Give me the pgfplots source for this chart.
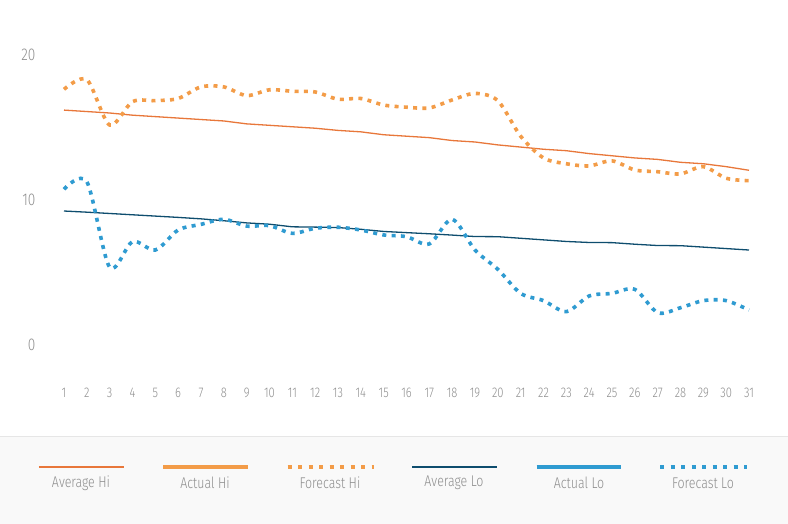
\documentclass[border=0pt]{standalone}
\usepackage{pgfplots}
\pgfplotsset{compat=1.18}
\usepackage{fontspec}
\setmainfont{Fira Sans}[UprightFont=* Light, FakeStretch=0.8]
\definecolor{avghi}{HTML}{E8773A}
\definecolor{fchi}{HTML}{F39C48}
\definecolor{avglo}{HTML}{0E4D6E}
\definecolor{fclo}{HTML}{2F9BD1}
\definecolor{txt}{HTML}{8E8E8E}
\definecolor{legbg}{HTML}{F9F9F9}
\definecolor{legline}{HTML}{E6E6E6}
\begin{document}
\begin{tikzpicture}
\path[use as bounding box] (-64pt,-142.75pt) rectangle (724pt,381.25pt);
\fill[legbg] (-64pt,-142.75pt) rectangle (724pt,-55.75pt);
\draw[legline,line width=1pt] (-64pt,-55.75pt) -- (724pt,-55.75pt);
\begin{axis}[
  at={(0pt,0pt)}, anchor=south west,
  scale only axis, width=685pt, height=348pt,
  xmin=1, xmax=31, ymin=-2.5, ymax=21.5,
  axis line style={draw=none},
  major tick length=0pt,
  xtick={1,...,31}, ytick={0,10,20},
  /pgf/number format/assume math mode=true,
  xticklabel style={font=\fontsize{14}{15}\selectfont, text=txt, yshift=-3pt},
  yticklabel style={font=\fontsize{17}{18}\selectfont, text=txt, xshift=-25pt},
  clip=false,
]
\addplot[avghi, line width=1.3pt] coordinates {
(1,16.2)(2,16.1)(3,16.0)(4,15.85)(5,15.75)(6,15.65)(7,15.55)(8,15.45)(9,15.25)(10,15.15)
(11,15.05)(12,14.95)(13,14.8)(14,14.7)(15,14.5)(16,14.4)(17,14.3)(18,14.1)(19,14.0)(20,13.8)
(21,13.65)(22,13.5)(23,13.4)(24,13.2)(25,13.05)(26,12.9)(27,12.8)(28,12.6)(29,12.5)(30,12.3)(31,12.05)};
\addplot[fchi, line width=3.6pt, dash pattern=on 4pt off 5.3pt, smooth, tension=0.5] coordinates {
(1,17.63)(2,18.3)(3,15.17)(4,16.78)(5,16.85)(6,17.0)(7,17.8)(8,17.8)(9,17.2)(10,17.6)
(11,17.5)(12,17.45)(13,16.95)(14,17.0)(15,16.55)(16,16.4)(17,16.35)(18,16.9)(19,17.35)(20,16.85)
(21,14.4)(22,12.9)(23,12.5)(24,12.35)(25,12.7)(26,12.07)(27,11.95)(28,11.8)(29,12.3)(30,11.5)(31,11.33)};
\addplot[avglo, line width=1.3pt] coordinates {
(1,9.24)(2,9.16)(3,9.07)(4,8.98)(5,8.89)(6,8.80)(7,8.70)(8,8.57)(9,8.42)(10,8.33)
(11,8.15)(12,8.13)(13,8.10)(14,7.98)(15,7.83)(16,7.75)(17,7.67)(18,7.58)(19,7.48)(20,7.47)
(21,7.36)(22,7.25)(23,7.14)(24,7.07)(25,7.06)(26,6.95)(27,6.86)(28,6.85)(29,6.75)(30,6.65)(31,6.55)};
\addplot[fclo, line width=3.6pt, dash pattern=on 4pt off 5.3pt, smooth, tension=0.5] coordinates {
(1,10.74)(2,11.26)(3,5.36)(4,7.13)(5,6.55)(6,7.93)(7,8.32)(8,8.67)(9,8.2)(10,8.23)
(11,7.7)(12,8.05)(13,8.12)(14,7.93)(15,7.59)(16,7.47)(17,6.97)(18,8.67)(19,6.55)(20,5.22)
(21,3.56)(22,3.06)(23,2.3)(24,3.38)(25,3.56)(26,3.84)(27,2.23)(28,2.57)(29,3.06)(30,3.06)(31,2.41)};
\end{axis}
% legend
\begin{scope}[every node/.style={font=\fontsize{15.5}{16}\selectfont, text=txt}]
\draw[avghi, line width=1.3pt] (-25pt,-85.75pt) -- (59.5pt,-85.75pt);
\node at (17pt,-101.75pt) {Average Hi};
\draw[fchi, line width=4pt] (99pt,-85.75pt) -- (183.5pt,-85.75pt);
\node at (141pt,-101.75pt) {Actual Hi};
\draw[fchi, line width=4pt, dash pattern=on 4pt off 6.5pt] (223.5pt,-85.75pt) -- (310pt,-85.75pt);
\node at (266pt,-101.75pt) {Forecast Hi};
\draw[avglo, line width=1.3pt] (348pt,-85.75pt) -- (432.5pt,-85.75pt);
\node at (390pt,-101.75pt) {Average Lo};
\draw[fclo, line width=4pt] (472.5pt,-85.75pt) -- (557pt,-85.75pt);
\node at (515pt,-101.75pt) {Actual Lo};
\draw[fclo, line width=4pt, dash pattern=on 4pt off 6.5pt] (596pt,-85.75pt) -- (683pt,-85.75pt);
\node at (639pt,-101.75pt) {Forecast Lo};
\end{scope}
\end{tikzpicture}
\end{document}
